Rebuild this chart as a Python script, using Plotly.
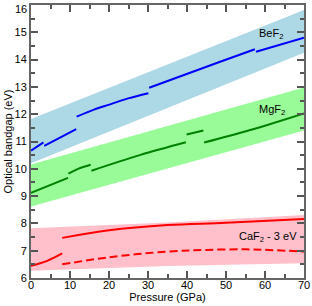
import plotly.graph_objects as go

# ---------------- data ----------------
# uncertainty bands (x, upper, lower)
bef2_band_x = [0, 70]
bef2_band_hi = [11.82, 15.82]
bef2_band_lo = [10.20, 14.25]

mgf2_band_x = [0, 70]
mgf2_band_hi = [10.16, 12.98]
mgf2_band_lo = [8.62, 11.40]

caf2_band_x = [0, 35, 70]
caf2_band_hi = [7.82, 8.03, 8.31]
caf2_band_lo = [6.27, 6.44, 6.54]

# BeF2 segments
bef2_segments = [
    ([0.0, 3.2], [10.66, 10.97]),
    ([3.4, 11.6], [10.84, 11.45]),
    ([11.7, 16.0, 20.3, 24.9, 30.1], [11.91, 12.16, 12.36, 12.58, 12.77]),
    ([30.3, 48.5, 57.4], [12.97, 13.92, 14.38]),
    ([57.7, 70.0], [14.29, 14.80]),
]

# MgF2 segments
mgf2_segments = [
    ([0.0, 9.5], [9.12, 9.67]),
    ([9.6, 12.05, 15.3], [9.82, 10.00, 10.15]),
    ([15.5, 27.9, 39.7], [9.93, 10.50, 10.97]),
    ([39.9, 44.2], [11.26, 11.40]),
    ([44.4, 56.2, 70.0], [10.96, 11.42, 12.03]),
]

# CaF2 (-3 eV) segments
caf2_solid_segments = [
    ([0.0, 4.0, 8.0], [6.45, 6.62, 6.90]),
    ([8.0, 20.0, 35.0, 50.0, 70.0], [7.47, 7.75, 7.94, 8.02, 8.16]),
]
caf2_dash_x = [8.0, 20.0, 35.0, 45.0, 55.0, 62.0, 70.0]
caf2_dash_y = [6.50, 6.76, 6.97, 7.03, 7.05, 7.02, 6.97]

labels = [
    (58.0, 14.92, "BeF<sub>2</sub>"),
    (58.0, 12.15, "MgF<sub>2</sub>"),
    (52.9, 7.52, "CaF<sub>2</sub> - 3 eV"),
]

x_ticks = [0, 10, 20, 30, 40, 50, 60, 70]
y_ticks = [6, 7, 8, 9, 10, 11, 12, 13, 14, 15, 16]

FONT = "Liberation Sans, Arial, Helvetica, sans-serif"

fig = go.Figure()


def add_band(xs, hi, lo, color):
    fig.add_trace(go.Scatter(x=xs, y=lo, mode="lines", line=dict(width=0, color=color),
                             hoverinfo="skip", showlegend=False))
    fig.add_trace(go.Scatter(x=xs, y=hi, mode="lines", line=dict(width=0, color=color),
                             fill="tonexty", fillcolor=color, hoverinfo="skip", showlegend=False))


add_band(bef2_band_x, bef2_band_hi, bef2_band_lo, "#add8e6")
add_band(mgf2_band_x, mgf2_band_hi, mgf2_band_lo, "#98fb98")
add_band(caf2_band_x, caf2_band_hi, caf2_band_lo, "#ffc0cb")

for xs, ys in bef2_segments:
    fig.add_trace(go.Scatter(x=xs, y=ys, mode="lines", line=dict(color="#0000ff", width=2, shape="spline"),
                             showlegend=False))
for xs, ys in mgf2_segments:
    fig.add_trace(go.Scatter(x=xs, y=ys, mode="lines", line=dict(color="#008000", width=2, shape="spline"),
                             showlegend=False))
for xs, ys in caf2_solid_segments:
    fig.add_trace(go.Scatter(x=xs, y=ys, mode="lines", line=dict(color="#ff0000", width=2, shape="spline"),
                             showlegend=False))
fig.add_trace(go.Scatter(x=caf2_dash_x, y=caf2_dash_y, mode="lines",
                         line=dict(color="#ff0000", width=2, dash="8px,4px", shape="spline"),
                         showlegend=False))

for x, y, t in labels:
    fig.add_annotation(x=x, y=y, text=t, showarrow=False, xanchor="left", yanchor="middle",
                       font=dict(family=FONT, size=11, color="black"))

# topmost y tick label sits at the very top edge of the figure, where plotly
# would hide it; draw it as a text annotation at the top of the plot area
top_tick = y_ticks[-1]
fig.add_annotation(x=0, xref="paper", xanchor="right", xshift=-3, y=1, yref="paper",
                   yanchor="top", yshift=3, text=str(top_tick), showarrow=False,
                   borderpad=0, font=dict(family=FONT, size=11, color="black"))

axis_common = dict(
    showgrid=False, zeroline=False, showline=True, linecolor="#666666", linewidth=2,
    mirror="ticks", ticks="inside", ticklen=7, tickwidth=1.5, tickcolor="#555555",
    tickfont=dict(family=FONT, size=11, color="black"), automargin=False,
)

fig.update_xaxes(range=[-0.0005, 70.0005], tickvals=x_ticks, ticktext=[str(v) for v in x_ticks],
                 minor=dict(ticks="inside", ticklen=4, dtick=5, tick0=0, tickwidth=1.5, tickcolor="#555555"),
                 title=dict(text="Pressure (GPa)", font=dict(family=FONT, size=11, color="black"), standoff=0),
                 ticklabelstandoff=-4,
                 **axis_common)
fig.update_yaxes(range=[5.9999, 16.0001], tickvals=y_ticks,
                 ticktext=[str(v) for v in y_ticks[:-1]] + [""],
                 minor=dict(ticks="inside", ticklen=4, dtick=0.5, tick0=6, tickwidth=1.5, tickcolor="#555555"),
                 title=dict(text="Optical bandgap (eV)", font=dict(family=FONT, size=11, color="black"), standoff=0),
                 ticklabelstandoff=0,
                 **axis_common)

fig.update_layout(width=312, height=306, margin=dict(l=31, r=8, t=5, b=28, autoexpand=False),
                  plot_bgcolor="white", paper_bgcolor="white", showlegend=False,
                  font=dict(family=FONT, size=11, color="black"))

fig.write_html("out.html", config={"displayModeBar": False},
               post_script="document.body.style.margin='0';document.body.style.padding='0';"
                           "document.documentElement.style.overflow='hidden';")
